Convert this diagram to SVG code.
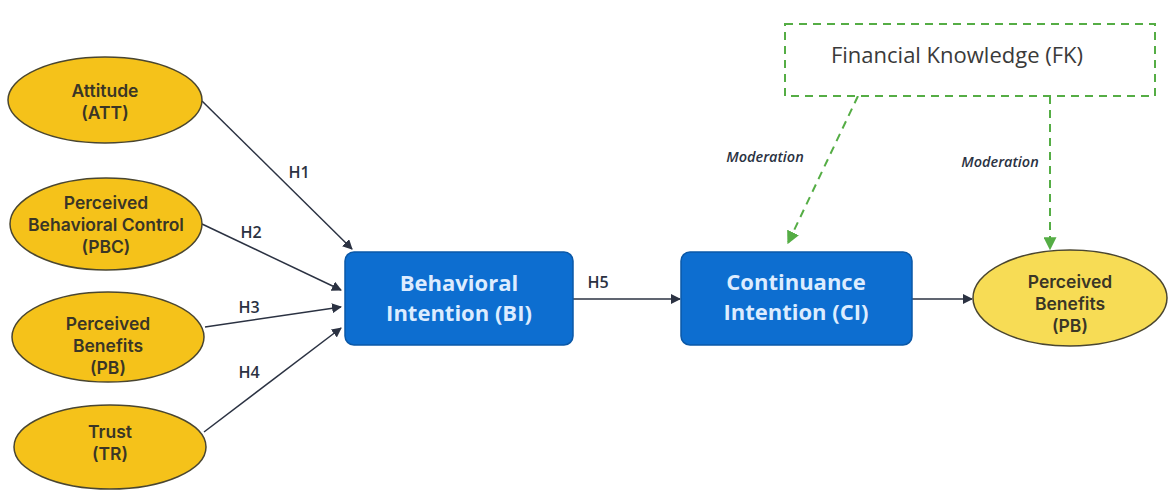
<svg xmlns="http://www.w3.org/2000/svg" width="1170" height="491" viewBox="0 0 1170 491">
<defs>
<marker id="ah" viewBox="0 0 10 10" refX="9" refY="5" markerWidth="10" markerHeight="10" markerUnits="userSpaceOnUse" orient="auto"><path d="M0,0 L10,5 L0,10 z" fill="#2b3242"/></marker>
<marker id="ag" viewBox="0 0 10 10" refX="9" refY="5" markerWidth="13" markerHeight="13" markerUnits="userSpaceOnUse" orient="auto"><path d="M0,0 L10,5 L0,10 z" fill="#55ad45"/></marker>
<style>
.ell{fill:#f5c21a;stroke:#4a4630;stroke-width:1.5}
.ell2{fill:#f7dc55;stroke:#4a4630;stroke-width:1.5}
.et{font-family:Inter,"Open Sans",sans-serif;font-weight:600;font-size:17.5px;fill:#3a3626;text-anchor:middle}
.box{fill:#0d6ed0;stroke:#0a58a8;stroke-width:1.5}
.bt{font-family:"Open Sans","Noto Sans",sans-serif;font-weight:700;font-size:22px;fill:#dcecff;text-anchor:middle}
.lbl{font-family:"Open Sans","Noto Sans",sans-serif;font-weight:600;font-size:16px;fill:#2b3242;text-anchor:middle}
.mod{font-family:"Open Sans","Noto Sans",sans-serif;font-weight:600;font-style:italic;font-size:14.5px;fill:#2b3242;text-anchor:middle}
.ln{stroke:#2b3242;stroke-width:1.5;fill:none;marker-end:url(#ah)}
.dl{stroke:#55ad45;stroke-width:2;stroke-dasharray:8,6;fill:none;marker-end:url(#ag)}
</style>
</defs>
<rect width="1170" height="491" fill="#ffffff"/>
<g id="connectors">
<line class="ln" x1="202" y1="101" x2="352" y2="249"/>
<line class="ln" x1="202" y1="224" x2="341" y2="290"/>
<line class="ln" x1="205" y1="327" x2="341" y2="307"/>
<line class="ln" x1="204" y1="432" x2="341" y2="328"/>
<line class="ln" x1="573" y1="299" x2="680" y2="299"/>
<line class="ln" x1="912" y1="299" x2="972" y2="299"/>
<line class="dl" x1="858" y1="96" x2="788" y2="243"/>
<line class="dl" x1="1050" y1="96" x2="1050" y2="249"/>
<text class="lbl" x="299" y="178">H1</text>
<text class="lbl" x="251" y="238">H2</text>
<text class="lbl" x="249" y="313">H3</text>
<text class="lbl" x="249" y="378">H4</text>
<text class="lbl" x="598" y="288">H5</text>
<text class="mod" x="765" y="162">Moderation</text>
<text class="mod" x="1000" y="167">Moderation</text>
</g>
<g id="att"><ellipse class="ell" cx="105" cy="100" rx="97" ry="43"/><text class="et" x="105" y="97">Attitude</text><text class="et" x="105" y="119">(ATT)</text></g>
<g id="pbc"><ellipse class="ell" cx="106" cy="224" rx="96" ry="46"/><text class="et" x="106" y="209">Perceived</text><text class="et" x="106" y="231">Behavioral Control</text><text class="et" x="106" y="253">(PBC)</text></g>
<g id="pb1"><ellipse class="ell" cx="108" cy="337" rx="96" ry="45"/><text class="et" x="108" y="330">Perceived</text><text class="et" x="108" y="352">Benefits</text><text class="et" x="108" y="374">(PB)</text></g>
<g id="tr"><ellipse class="ell" cx="110" cy="447" rx="96" ry="42"/><text class="et" x="110" y="438">Trust</text><text class="et" x="110" y="460">(TR)</text></g>
<g id="bi"><rect class="box" x="345" y="252" width="228" height="93" rx="9"/><text class="bt" x="459" y="291">Behavioral</text><text class="bt" x="459" y="321">Intention (BI)</text></g>
<g id="ci"><rect class="box" x="681" y="252" width="231" height="93" rx="9"/><text class="bt" x="796" y="290">Continuance</text><text class="bt" x="796" y="320">Intention (CI)</text></g>
<g id="pb2"><ellipse class="ell2" cx="1070" cy="298" rx="97" ry="48"/><text class="et" x="1070" y="288">Perceived</text><text class="et" x="1070" y="310">Benefits</text><text class="et" x="1070" y="332">(PB)</text></g>
<g id="fk"><rect x="785" y="24" width="370" height="72" fill="#ffffff" stroke="#55ad45" stroke-width="2" stroke-dasharray="8,6"/><text x="957" y="63" font-family="'Open Sans','Noto Sans',sans-serif" font-size="22" fill="#3a3a3a" text-anchor="middle">Financial Knowledge (FK)</text></g>
</svg>
